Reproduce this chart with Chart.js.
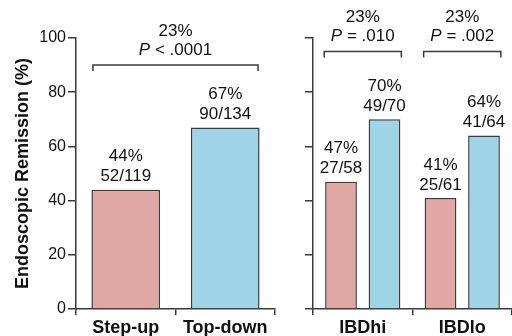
<!DOCTYPE html>
<html>
<head>
<meta charset="utf-8">
<script src="https://cdn.jsdelivr.net/npm/chart.js@4/dist/chart.umd.min.js"></script>
<style>
  html, body { margin: 0; padding: 0; background: #fff; overflow: hidden; }
  #wrap { position: relative; width: 512px; height: 336px; }
  #overall { position: absolute; left: 0; top: 0; }
  #subgroup { position: absolute; left: 295px; top: 0; }
</style>
</head>
<body>
<div id="wrap">
  <canvas id="overall" width="295" height="336"></canvas>
  <canvas id="subgroup" width="217" height="336"></canvas>
</div>
<script>
// overall comparison
var overallLabels = ['Step-up', 'Top-down'];
var overallValues = [44, 67];
var overallCounts = ['52/119', '90/134'];
var overallDiff = '23%';
var overallP = '< .0001';

// subgroups
var subgroupLabels = ['IBDhi', 'IBDlo'];
var stepUpValues = [47, 41];
var stepUpCounts = ['27/58', '25/61'];
var topDownValues = [70, 64];
var topDownCounts = ['49/70', '41/64'];
var subgroupDiffs = ['23%', '23%'];
var subgroupP = ['= .010', '= .002'];

var yTicks = [0, 20, 40, 60, 80, 100];

var RED = '#e0a7a3';
var BLUE = '#9fd4e7';
var INK = '#3a3a3a';
var FONT = '"Liberation Sans", Arial, sans-serif';

// draws "47%" and the count above every bar
var barLabels = {
  id: 'barLabels',
  afterDatasetsDraw: function (chart) {
    var ctx = chart.ctx;
    ctx.save();
    ctx.font = '17px ' + FONT;
    ctx.fillStyle = '#111';
    ctx.textAlign = 'center';
    ctx.textBaseline = 'middle';
    chart.data.datasets.forEach(function (ds, di) {
      chart.getDatasetMeta(di).data.forEach(function (bar, i) {
        ctx.fillText(ds.data[i] + '%', bar.x, bar.y - 33);
        ctx.fillText(ds.counts[i], bar.x, bar.y - 13);
      });
    });
    ctx.restore();
  }
};

// bracket between two bars with difference and P value
function drawBracket(chart, x1, x2, value, diff, p) {
  var ctx = chart.ctx;
  var y = chart.scales.y.getPixelForValue(value);
  var cx = (x1 + x2) / 2;
  ctx.save();
  ctx.strokeStyle = INK;
  ctx.lineWidth = 1.5;
  ctx.beginPath();
  ctx.moveTo(x1, y + 6);
  ctx.lineTo(x1, y);
  ctx.lineTo(x2, y);
  ctx.lineTo(x2, y + 6);
  ctx.stroke();

  ctx.fillStyle = '#111';
  ctx.textBaseline = 'middle';
  ctx.textAlign = 'center';
  ctx.font = '17px ' + FONT;
  ctx.fillText(diff, cx, y - 34);

  ctx.font = 'italic 17px ' + FONT;
  var wP = ctx.measureText('P ').width;
  ctx.font = '17px ' + FONT;
  var wRest = ctx.measureText(p).width;
  var start = cx - (wP + wRest) / 2;
  ctx.textAlign = 'left';
  ctx.font = 'italic 17px ' + FONT;
  ctx.fillText('P ', start, y - 15);
  ctx.font = '17px ' + FONT;
  ctx.fillText(p, start + wP, y - 15);
  ctx.restore();
}

var overallBracket = {
  id: 'overallBracket',
  afterDatasetsDraw: function (chart) {
    var bars = chart.getDatasetMeta(0).data;
    var a = bars[0], b = bars[1];
    drawBracket(chart, a.x - a.width / 2 + 1.5, b.x + b.width / 2 - 1.5, 90, overallDiff, overallP);
  }
};

var subgroupBracket = {
  id: 'subgroupBracket',
  afterDatasetsDraw: function (chart) {
    var red = chart.getDatasetMeta(0).data;
    var blue = chart.getDatasetMeta(1).data;
    for (var i = 0; i < subgroupLabels.length; i++) {
      drawBracket(chart, red[i].x - red[i].width / 2 - 1, blue[i].x + blue[i].width / 2 + 1,
        95, subgroupDiffs[i], subgroupP[i]);
    }
  }
};

function yScale(showLabels, width) {
  return {
    min: 0,
    max: 100,
    afterBuildTicks: function (scale) {
      scale.ticks = yTicks.map(function (v) { return { value: v }; });
    },
    afterFit: function (scale) { scale.width = width; },
    border: { display: true, color: INK, width: 1.5 },
    grid: { drawOnChartArea: false, drawTicks: true, tickLength: 8, color: INK, lineWidth: 1.5 },
    ticks: { display: showLabels, padding: 2, color: '#111', font: { family: FONT, size: 16 } },
    title: {
      display: showLabels,
      text: 'Endoscopic Remission (%)',
      color: '#111',
      padding: { top: 12, bottom: 0 },
      font: { family: FONT, size: 18, weight: 'bold' }
    }
  };
}

function xScale() {
  return {
    afterFit: function (scale) { scale.height = 27; },
    border: { display: true, color: INK, width: 1.5 },
    grid: { offset: true, drawOnChartArea: false, drawTicks: true, tickLength: 6, color: INK, lineWidth: 1.5 },
    ticks: { padding: 2, color: '#111', font: { family: FONT, size: 18, weight: 'bold' } }
  };
}

new Chart(document.getElementById('overall').getContext('2d'), {
  type: 'bar',
  data: {
    labels: overallLabels,
    datasets: [{
      label: 'Endoscopic remission',
      data: overallValues,
      counts: overallCounts,
      backgroundColor: [RED, BLUE],
      borderColor: INK,
      borderWidth: 1.5,
      categoryPercentage: 1,
      barPercentage: 0.69
    }]
  },
  options: {
    responsive: false,
    animation: false,
    layout: { padding: { top: 38, right: 20, left: 0, bottom: 0 } },
    plugins: { legend: { display: false }, tooltip: { enabled: false } },
    scales: { x: xScale(), y: yScale(true, 76) }
  },
  plugins: [barLabels, overallBracket]
});

new Chart(document.getElementById('subgroup').getContext('2d'), {
  type: 'bar',
  data: {
    labels: subgroupLabels,
    datasets: [{
      label: 'Step-up',
      data: stepUpValues,
      counts: stepUpCounts,
      backgroundColor: RED,
      borderColor: INK,
      borderWidth: 1.5,
      categoryPercentage: 0.874,
      barPercentage: 0.73
    }, {
      label: 'Top-down',
      data: topDownValues,
      counts: topDownCounts,
      backgroundColor: BLUE,
      borderColor: INK,
      borderWidth: 1.5,
      categoryPercentage: 0.874,
      barPercentage: 0.73
    }]
  },
  options: {
    responsive: false,
    animation: false,
    layout: { padding: { top: 38, right: 0, left: 0, bottom: 0 } },
    plugins: { legend: { display: false }, tooltip: { enabled: false } },
    scales: { x: xScale(), y: yScale(false, 18) }
  },
  plugins: [barLabels, subgroupBracket]
});
</script>
</body>
</html>
